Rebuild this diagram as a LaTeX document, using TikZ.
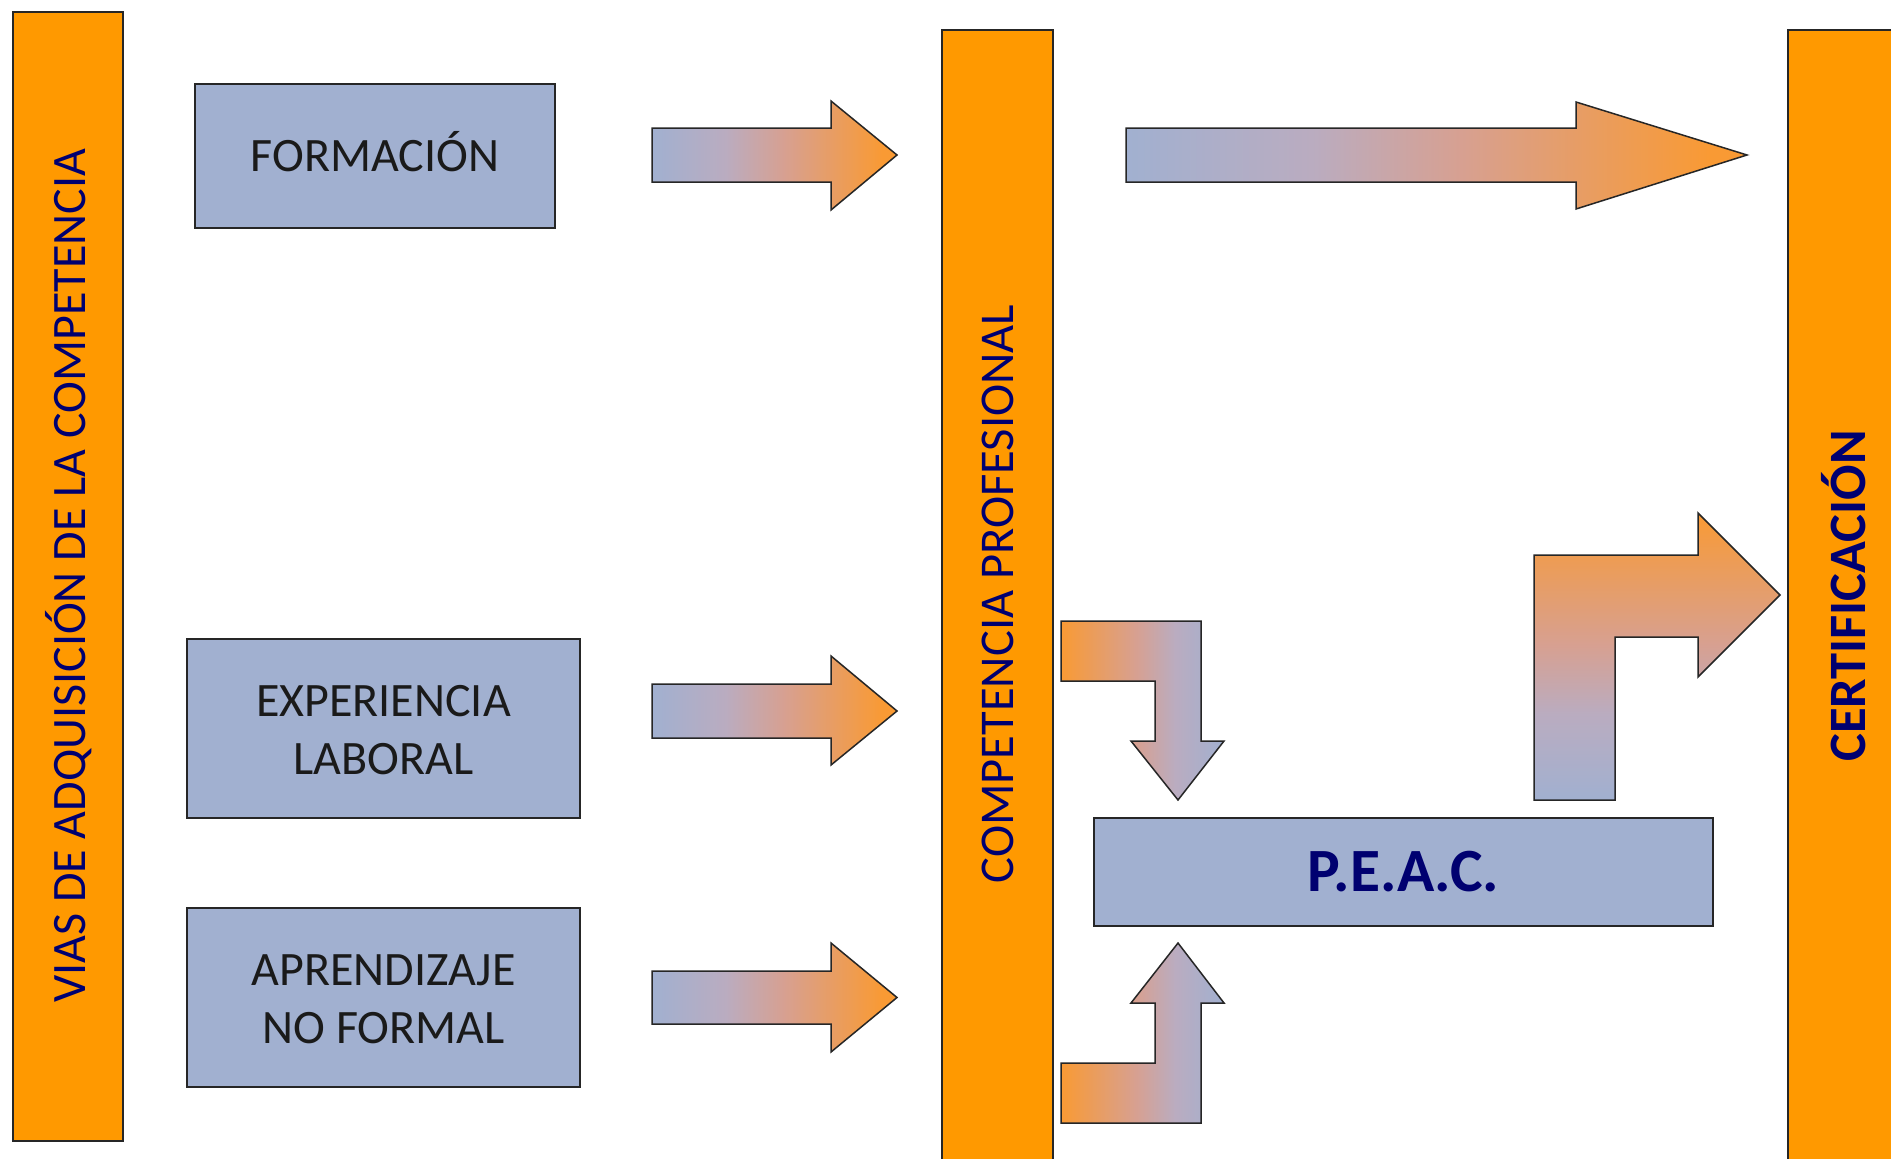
\documentclass[tikz,border=0pt]{standalone}
\usepackage{fontspec}
\setmainfont{Carlito}
\definecolor{barorange}{RGB}{255,153,0}
\definecolor{boxblue}{RGB}{161,176,208}
\definecolor{lineg}{RGB}{38,38,38}
\definecolor{navytext}{RGB}{0,0,112}
\definecolor{boxtext}{RGB}{26,26,26}
\definecolor{ablue}{RGB}{161,176,208}
\definecolor{amauve}{RGB}{186,172,192}
\definecolor{asalmon}{RGB}{215,160,145}
\definecolor{aorange}{RGB}{249,154,52}
\pgfdeclarehorizontalshading{hgrad}{100bp}{color(0bp)=(ablue); color(25bp)=(ablue); color(40bp)=(amauve); color(52bp)=(asalmon); color(72bp)=(aorange); color(100bp)=(aorange)}
\pgfdeclarehorizontalshading{hgradrev}{100bp}{color(0bp)=(aorange); color(25bp)=(aorange); color(48bp)=(asalmon); color(60bp)=(amauve); color(75bp)=(ablue); color(100bp)=(ablue)}
\pgfdeclareverticalshading{vgrad}{100bp}{color(0bp)=(ablue); color(25bp)=(ablue); color(40bp)=(amauve); color(52bp)=(asalmon); color(75bp)=(aorange); color(100bp)=(aorange)}
\tikzset{
  bar/.style={fill=barorange, draw=lineg, line width=1.5pt},
  bluebox/.style={rectangle, fill=boxblue, draw=lineg, line width=2pt, inner sep=0pt},
  boxlabel/.style={text=boxtext, font=\fontsize{48}{58}\selectfont, align=center, text height=30.3pt, text depth=0pt},
  blockarrow/.style={draw=lineg, line width=1.5pt, line join=miter},
  vtext/.style={rotate=90, text=navytext, font=\fontsize{48}{56}\selectfont, inner sep=0pt, text height=30.3pt, text depth=0pt},
  vtextbold/.style={rotate=90, text=navytext, font=\fontsize{52.5}{60}\selectfont\bfseries, inner sep=0pt, text height=33.2pt, text depth=0pt},
}
\begin{document}
\begin{tikzpicture}[x=1pt,y=-1pt]
\useasboundingbox (0,0) rectangle (1891,1159);
\fill[white] (0,0) rectangle (1891,1159);

% orange bars
\draw[bar] (13,12) rectangle (123,1141);
\draw[bar] (942,30) rectangle (1053,1175);
\draw[bar] (1788,30) rectangle (1905,1175);

\node[vtext] (vias) at (70.5,576) {VIAS DE ADQUISICIÓN DE LA COMPETENCIA};
\node[vtext, font=\fontsize{48.5}{56}\selectfont] (comp) at (998,594) {COMPETENCIA PROFESIONAL};
\node[vtextbold] (cert) at (1848.5,596) {CERTIFICACIÓN};

% blue boxes
\node[bluebox, boxlabel, minimum width=360pt, minimum height=144pt] (form) at (375,156) {FORMACIÓN};
\node[bluebox, minimum width=393pt, minimum height=179pt] (exp) at (383.5,728.5) {};
\node[boxlabel] (explab) at (383.5,759.5) {EXPERIENCIA\\LABORAL};
\node[bluebox, minimum width=393pt, minimum height=179pt] (apr) at (383.5,997.5) {};
\node[boxlabel] (aprlab) at (383.5,1028) {APRENDIZAJE\\NO FORMAL};
\node[bluebox, minimum width=619pt, minimum height=108pt, text=navytext, font=\fontsize{61.5}{70}\selectfont\bfseries, text height=38.8pt, text depth=0pt] (peac) at (1403.5,872) {P.E.A.C.};

% straight arrows
\path[blockarrow, shading=hgrad] (652,128) -- (831,128) -- (831,101) -- (897,155) -- (831,210) -- (831,182) -- (652,182) -- cycle;
\path[blockarrow, shading=hgrad] (652,684) -- (831,684) -- (831,656) -- (897,711) -- (831,765) -- (831,738) -- (652,738) -- cycle;
\path[blockarrow, shading=hgrad] (652,971) -- (831,971) -- (831,943) -- (897,997.5) -- (831,1052) -- (831,1024) -- (652,1024) -- cycle;
\path[blockarrow, shading=hgrad] (1126,128) -- (1576,128) -- (1576,102) -- (1747,155) -- (1576,209) -- (1576,182) -- (1126,182) -- cycle;

% bent arrows
\path[blockarrow, shading=hgradrev] (1061,621) -- (1201,621) -- (1201,741) -- (1224,741) -- (1178,800) -- (1131,741) -- (1155,741) -- (1155,681) -- (1061,681) -- cycle;
\path[blockarrow, shading=hgradrev] (1061,1123) -- (1201,1123) -- (1201,1003) -- (1224,1003) -- (1178,943) -- (1131,1003) -- (1155,1003) -- (1155,1063) -- (1061,1063) -- cycle;
\path[blockarrow, shading=vgrad] (1534,800) -- (1534,555) -- (1698,555) -- (1698,513) -- (1780,595) -- (1698,677) -- (1698,637) -- (1615,637) -- (1615,800) -- cycle;
\end{tikzpicture}
\end{document}
